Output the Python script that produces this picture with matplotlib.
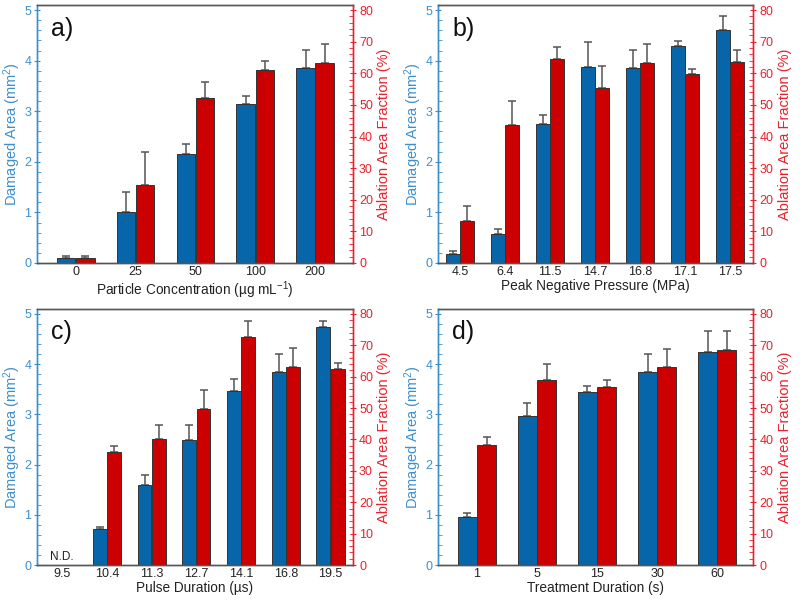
"""Damaged area / ablation fraction bar panels (a-d)."""

import numpy as np
import matplotlib
matplotlib.use("Agg")
import matplotlib.pyplot as plt
from matplotlib.ticker import MultipleLocator

plt.rcParams["font.family"] = ["Liberation Sans", "DejaVu Sans"]
plt.rcParams["mathtext.fontset"] = "custom"
plt.rcParams["mathtext.rm"] = "Liberation Sans"
plt.rcParams["mathtext.default"] = "regular"

# a) particle concentration
conc_labels = ["0", "25", "50", "100", "200"]
conc_area = [0.09, 1.00, 2.16, 3.15, 3.85]
conc_area_err = [0.04, 0.41, 0.20, 0.15, 0.36]
conc_frac = [1.5, 24.8, 52.3, 60.9, 63.1]
conc_frac_err = [0.6, 10.4, 5.0, 2.9, 6.1]

# b) peak negative pressure
pnp_labels = ["4.5", "6.4", "11.5", "14.7", "16.8", "17.1", "17.5"]
pnp_area = [0.18, 0.57, 2.75, 3.88, 3.85, 4.29, 4.61]
pnp_area_err = [0.06, 0.10, 0.17, 0.49, 0.36, 0.10, 0.27]
pnp_frac = [13.4, 43.6, 64.4, 55.4, 63.1, 59.8, 63.7]
pnp_frac_err = [4.5, 7.7, 3.9, 6.8, 6.1, 1.4, 3.6]

# c) pulse duration (9.5 us: not detected)
pd_labels = ["9.5", "10.4", "11.3", "12.7", "14.1", "16.8", "19.5"]
pd_area = [np.nan, 0.71, 1.60, 2.49, 3.47, 3.84, 4.75]
pd_area_err = [0.0, 0.05, 0.19, 0.30, 0.24, 0.37, 0.12]
pd_frac = [np.nan, 35.9, 40.2, 49.8, 72.8, 63.2, 62.6]
pd_frac_err = [0.0, 2.1, 4.4, 6.0, 5.0, 6.1, 1.7]

# d) treatment duration
td_labels = ["1", "5", "15", "30", "60"]
td_area = [0.96, 2.96, 3.44, 3.85, 4.25]
td_area_err = [0.07, 0.26, 0.12, 0.36, 0.41]
td_frac = [38.4, 59.0, 56.8, 63.0, 68.4]
td_frac_err = [2.3, 5.2, 2.1, 6.0, 6.3]

BLUE = "#0766a9"
RED = "#cc0000"
BLUE_AX = "#3d8fcc"
RED_AX = "#e8222c"
ERR = "#555555"


def draw_panel(rect, letter, labels, area, area_err, frac, frac_err, xlabel, xlim):
    ax = fig.add_axes(rect)
    ax2 = ax.twinx()
    x = np.arange(len(labels))
    w = 0.31
    area = np.asarray(area, float)
    frac = np.asarray(frac, float)
    ok = ~np.isnan(area)

    ax.bar(x[ok] - 0.16, area[ok], w, color=BLUE, edgecolor="#333333",
           linewidth=0.7, zorder=2)
    ax.errorbar(x[ok] - 0.16, area[ok],
                yerr=[np.zeros(ok.sum()), np.asarray(area_err)[ok]],
                fmt="none", ecolor=ERR, elinewidth=1.1, capsize=3, capthick=1.1,
                zorder=1)
    ax2.bar(x[ok] + 0.16, frac[ok], w, color=RED, edgecolor="#333333",
            linewidth=0.7, zorder=2)
    ax2.errorbar(x[ok] + 0.16, frac[ok],
                 yerr=[np.zeros(ok.sum()), np.asarray(frac_err)[ok]],
                 fmt="none", ecolor=ERR, elinewidth=1.1, capsize=3, capthick=1.1,
                 zorder=1)
    for i in np.where(~ok)[0]:
        ax.text(x[i], 0.03, "N.D.", ha="center", va="bottom", fontsize=8.5,
                color="#222222")

    ax.set_xlim(*xlim)
    ax.set_ylim(0, 5.1)
    ax2.set_ylim(0, 81.6)
    ax.set_xticks(x)
    ax.set_xticklabels(labels)
    ax.tick_params(axis="x", length=0, pad=2, labelsize=9, colors="#222222")
    ax.set_xlabel(xlabel, fontsize=9.8, labelpad=1, color="#222222")

    ax.yaxis.set_major_locator(MultipleLocator(1))
    ax.yaxis.set_minor_locator(MultipleLocator(0.2))
    ax.tick_params(axis="y", which="major", direction="inout", length=5,
                   color=BLUE_AX, labelcolor=BLUE_AX, labelsize=9, pad=1.5)
    ax.tick_params(axis="y", which="minor", direction="in", length=3,
                   color=BLUE_AX)
    ax.set_ylabel("Damaged Area (mm$^{2}$)", color=BLUE_AX, fontsize=10.5,
                  labelpad=1)

    ax2.yaxis.set_major_locator(MultipleLocator(10))
    ax2.yaxis.set_minor_locator(MultipleLocator(2))
    ax2.tick_params(axis="y", which="major", direction="inout", length=5,
                    color=RED_AX, labelcolor=RED_AX, labelsize=9, pad=2)
    ax2.tick_params(axis="y", which="minor", direction="in", length=3,
                    color=RED_AX)
    ax2.set_ylabel("Ablation Area Fraction (%)", color=RED_AX, fontsize=10.5,
                   labelpad=3)

    for a in (ax, ax2):
        a.spines["left"].set_color(BLUE_AX)
        a.spines["right"].set_color(RED_AX)
        a.spines["top"].set_color("#555555")
        a.spines["bottom"].set_color("#555555")
        for s in a.spines.values():
            s.set_linewidth(1.0)

    ax.text(0.045, 0.955, letter, transform=ax.transAxes, ha="left", va="top",
            fontsize=18, color="#111111")


fig = plt.figure(figsize=(8, 6.01), dpi=100)

draw_panel([0.046, 0.5624, 0.395, 0.4293], "a)", conc_labels, conc_area,
           conc_area_err, conc_frac, conc_frac_err,
           "Particle Concentration (\u00b5g mL$^{-1}$)", (-0.65, 4.63))
draw_panel([0.5475, 0.5624, 0.394, 0.4293], "b)", pnp_labels, pnp_area,
           pnp_area_err, pnp_frac, pnp_frac_err,
           "Peak Negative Pressure (MPa)", (-0.49, 6.51))
draw_panel([0.046, 0.0599, 0.395, 0.426], "c)", pd_labels, pd_area,
           pd_area_err, pd_frac, pd_frac_err,
           "Pulse Duration (\u00b5s)", (-0.57, 6.5))
draw_panel([0.5475, 0.0599, 0.394, 0.426], "d)", td_labels, td_area,
           td_area_err, td_frac, td_frac_err,
           "Treatment Duration (s)", (-0.65, 4.6))

fig.savefig("out.png", dpi=100)
